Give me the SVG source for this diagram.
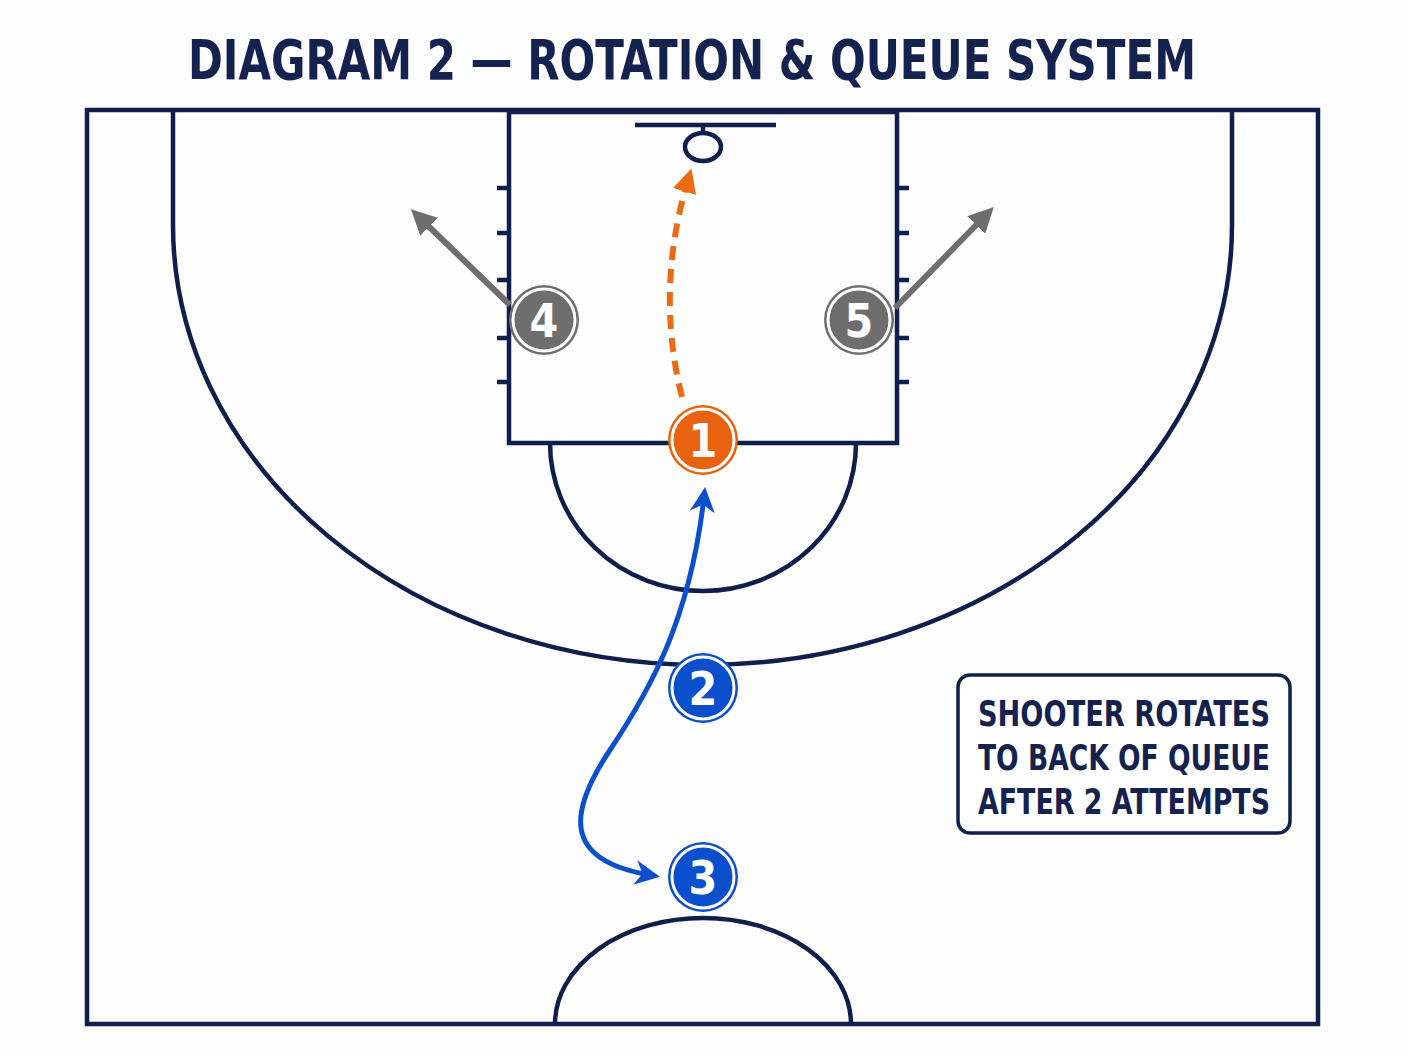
<svg xmlns="http://www.w3.org/2000/svg" width="1408" height="1056" viewBox="0 0 1408 1056">
<style>
.line{fill:none;stroke:#0f1f4b;stroke-width:4.5}
.t{font-family:"DejaVu Sans Condensed","DejaVu Sans",sans-serif;font-weight:bold;fill:#14224f}
.num{font-family:"DejaVu Sans Condensed","DejaVu Sans",sans-serif;font-weight:bold;fill:#fff;font-size:46px;text-anchor:middle}
.ring{fill:none;stroke:#fff;stroke-width:3}
</style>
<defs>
<marker id="ao" viewBox="0 0 10 10" refX="5" refY="5" markerWidth="4" markerHeight="4" orient="auto"><path d="M0,0L10,5L0,10z" fill="#ec6a12"/></marker>
<marker id="ab" viewBox="0 0 10 10" refX="6" refY="5" markerWidth="5" markerHeight="5" orient="auto-start-reverse"><path d="M0,0L10,5L0,10L3,5z" fill="#0b4fcc"/></marker>
<marker id="ag" viewBox="0 0 10 10" refX="5" refY="5" markerWidth="4.2" markerHeight="4.2" orient="auto"><path d="M0,0L10,5L0,10z" fill="#6e6e6e"/></marker>
</defs>
<rect width="1408" height="1056" fill="#fdfdfd"/>
<text class="t" x="692" y="79" font-size="56" text-anchor="middle" textLength="1008" lengthAdjust="spacingAndGlyphs">DIAGRAM 2 — ROTATION &amp; QUEUE SYSTEM</text>
<g id="court">
<rect class="line" x="87" y="110" width="1231" height="914"/>
<rect class="line" x="509" y="112" width="388" height="331"/>
<path class="line" d="M173,112V225A529.5,440 0 0 0 1232,225V112"/>
<path class="line" d="M550,443A153,148 0 0 0 856,443"/>
<path class="line" d="M555,1024A148,106 0 0 1 851,1024"/>
<path class="line" d="M635,125H776M703,125V133"/>
<ellipse class="line" cx="703" cy="147" rx="18" ry="14"/>
<path class="line" d="M497,188H509M497,233H509M497,280H509M497,338H509M497,382H509M897,188H909M897,233H909M897,280H909M897,338H909M897,382H909"/>
</g>
<g id="connectors">
<path d="M682,397Q655,290 688,180" fill="none" stroke="#ec6a12" stroke-width="6" stroke-dasharray="14,9" marker-end="url(#ao)"/>
<path d="M510,305L420,218" stroke="#6e6e6e" stroke-width="6" marker-end="url(#ag)"/>
<path d="M895,308L985,216" stroke="#6e6e6e" stroke-width="6" marker-end="url(#ag)"/>
<path d="M704,497C690,620 650,690 610,750C570,810 560,860 650,875" fill="none" stroke="#0b4fcc" stroke-width="5" marker-start="url(#ab)" marker-end="url(#ab)"/>
</g>
<g id="node1"><circle cx="703" cy="440" r="35" fill="#e8620f"/><circle class="ring" cx="703" cy="440" r="31"/><text class="num" x="703" y="457">1</text></g>
<g id="node2"><circle cx="703" cy="688" r="35" fill="#0b4fcc"/><circle class="ring" cx="703" cy="688" r="31"/><text class="num" x="703" y="705">2</text></g>
<g id="node3"><circle cx="703" cy="877" r="35" fill="#0b4fcc"/><circle class="ring" cx="703" cy="877" r="31"/><text class="num" x="703" y="894">3</text></g>
<g id="node4"><circle cx="544" cy="320" r="35" fill="#6e6e6e"/><circle class="ring" cx="544" cy="320" r="31"/><text class="num" x="544" y="337">4</text></g>
<g id="node5"><circle cx="859" cy="320" r="35" fill="#6e6e6e"/><circle class="ring" cx="859" cy="320" r="31"/><text class="num" x="859" y="337">5</text></g>
<g id="note">
<rect x="958" y="675" width="332" height="158" rx="12" fill="#fff" stroke="#0f1f4b" stroke-width="3.5"/>
<text class="t" font-size="36" text-anchor="middle"><tspan x="1124" y="726" textLength="292" lengthAdjust="spacingAndGlyphs">SHOOTER ROTATES</tspan><tspan x="1124" y="770" textLength="292" lengthAdjust="spacingAndGlyphs">TO BACK OF QUEUE</tspan><tspan x="1124" y="814" textLength="292" lengthAdjust="spacingAndGlyphs">AFTER 2 ATTEMPTS</tspan></text>
</g>
</svg>
